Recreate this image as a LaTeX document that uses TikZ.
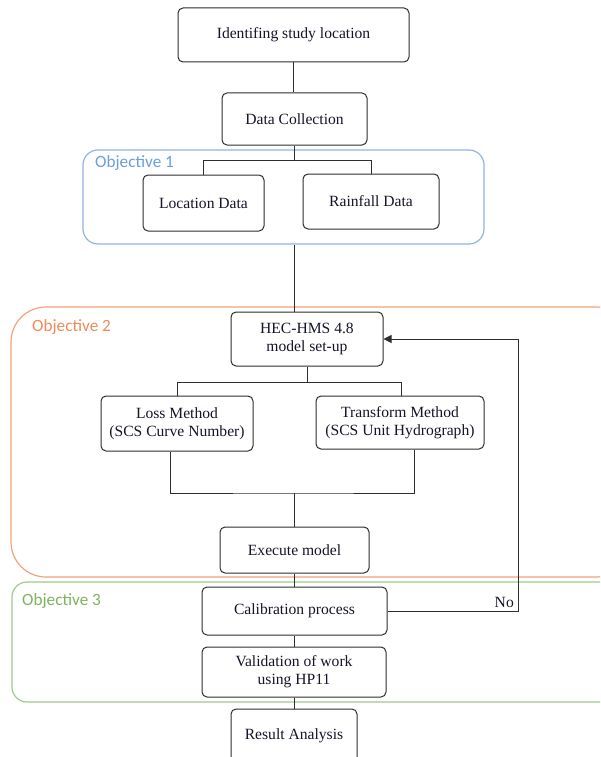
\documentclass[tikz,border=0pt]{standalone}
\usepackage{fontspec}
\setmainfont{Liberation Serif}
\newfontfamily\objfont{Carlito}
\usetikzlibrary{arrows.meta}

\definecolor{boxline}{HTML}{2E2E2E}
\definecolor{oneline}{HTML}{8EB4E3}
\definecolor{onetext}{HTML}{6A9FDB}
\definecolor{twoline}{HTML}{F4A27C}
\definecolor{twotext}{HTML}{F08A5A}
\definecolor{threeline}{HTML}{9CCB86}
\definecolor{threetext}{HTML}{7DB35E}
\definecolor{steptext}{HTML}{15152A}

\tikzset{
  stepbox/.style={draw=boxline, line width=1pt, rounded corners=5pt, fill=white,
    align=center, inner sep=0pt, text=steptext, font=\fontsize{15.6}{18}\selectfont},
  conn/.style={draw=boxline, line width=1pt},
  frame/.style={line width=1.2pt, inner sep=0pt},
  objlabel/.style={anchor=west, inner sep=0pt, font=\objfont\fontsize{17.2}{19}\selectfont}
}

\begin{document}
\begin{tikzpicture}[x=1pt,y=-1pt]
\useasboundingbox (0,0) rectangle (600,757);
\clip (0,0) rectangle (600,757);

% objective frames
\node[frame, draw=oneline, rounded corners=15pt, minimum width=401pt, minimum height=94pt] (obj1) at (283.5,197) {};
\node[frame, draw=twoline, rounded corners=35pt, minimum width=620pt, minimum height=270pt] (obj2) at (321,442) {};
\node[frame, draw=threeline, rounded corners=15pt, minimum width=610pt, minimum height=120pt] (obj3) at (317,642) {};
\node[objlabel, text=onetext] (lab1) at (95,163) {Objective 1};
\node[objlabel, text=twotext] (lab2) at (32,327) {Objective 2};
\node[objlabel, text=threetext] (lab3) at (22,601) {Objective 3};

% process steps
\node[stepbox, minimum width=231pt, minimum height=54pt] (idloc) at (293.5,35) {Identifing study location};
\node[stepbox, minimum width=145pt, minimum height=52pt] (dc) at (294.5,119) {Data Collection};
\node[stepbox, minimum width=121pt, minimum height=56pt] (loc) at (203.5,203) {Location Data};
\node[stepbox, minimum width=136pt, minimum height=55pt] (rain) at (371,201.5) {Rainfall Data};
\node[stepbox, minimum width=152pt, minimum height=54pt] (hec) at (307,339) {HEC-HMS 4.8\\model set-up};
\node[stepbox, minimum width=152pt, minimum height=55pt] (loss) at (177,423.5) {Loss Method\\(SCS Curve Number)};
\node[stepbox, minimum width=168pt, minimum height=53pt] (trans) at (400,422.5) {Transform Method\\(SCS Unit Hydrograph)};
\node[stepbox, minimum width=149pt, minimum height=46pt] (exec) at (294.5,550) {Execute model};
\node[stepbox, minimum width=185pt, minimum height=48pt] (calib) at (294.5,611) {Calibration process};
\node[stepbox, minimum width=184pt, minimum height=50pt] (valid) at (294,672) {Validation of work\\using HP11};
\node[stepbox, minimum width=126pt, minimum height=54pt] (result) at (294,736) {Result Analysis};

% connectors
\draw[conn] (idloc.south) -- (idloc.south |- dc.north);
\draw[conn] (dc.south) -- ++(0,15) -| (loc.north);
\draw[conn] (dc.south) ++(0,15) -| (rain.north);
\draw[conn] (dc.south |- obj1.south) -- (dc.south |- hec.north);
\draw[conn] (hec.south) -- ++(0,16) -| (loss.north);
\draw[conn] (hec.south) ++(0,16) -| ([xshift=1pt]trans.north);
\coordinate (merge) at (294,493);
\draw[conn] ([xshift=-7pt]loss.south) |- (merge) -| ([xshift=14pt]trans.south);
\draw[conn] (merge) -- (merge |- exec.north);
\draw[conn] (exec.south) -- (exec.south |- calib.north);
\draw[conn] (calib.south) -- (calib.south |- valid.north);
\draw[conn] (valid.south) -- (valid.south |- result.north);
\draw[conn, -{Triangle[length=8pt,width=8pt]}] (calib.east) -- ++(131,0) |- (hec.east);
\node[anchor=south east, inner sep=0pt, text=steptext, font=\fontsize{15.6}{18}\selectfont] (no) at (514,608) {No};
\end{tikzpicture}
\end{document}
